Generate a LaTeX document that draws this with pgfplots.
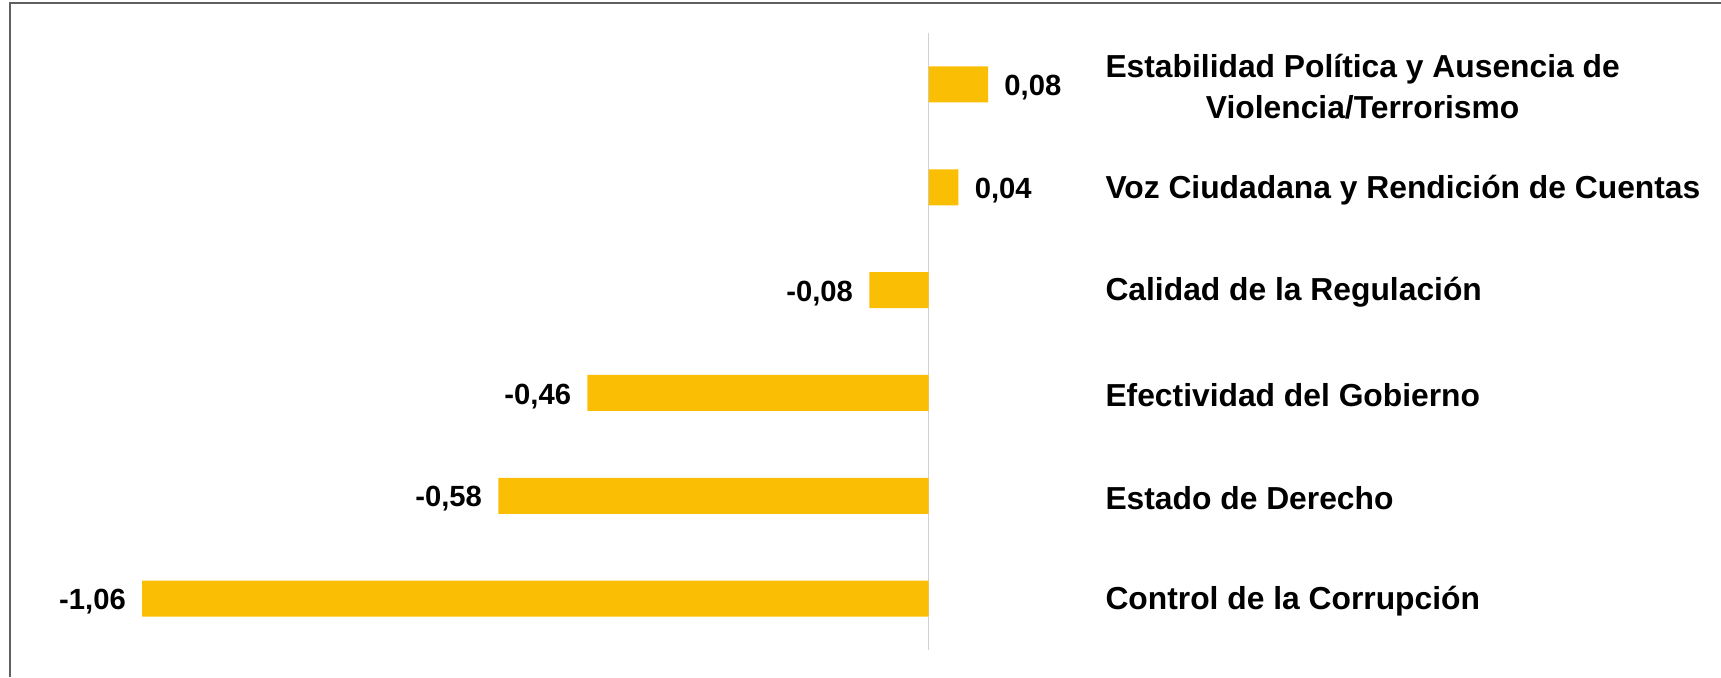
\documentclass[border=0pt]{standalone}
\usepackage{fontspec}
\setmainfont{Liberation Sans}
\usepackage{pgfplots}
\pgfplotsset{compat=1.18}

\definecolor{barclr}{RGB}{250,190,5}
\definecolor{frameclr}{RGB}{96,96,96}

\begin{document}
\begin{tikzpicture}
\useasboundingbox (0,0) rectangle (860.5pt,338.5pt);
\draw[frameclr,line width=1pt] (5pt,0) -- (5pt,336.85pt) -- (860.5pt,336.85pt);
\begin{axis}[at={(19.15pt,13.5pt)},anchor=south west,
  scale only axis,width=532.4pt,height=308.5pt,
  xbar,bar width=18pt,
  xmin=-1.2,xmax=0.235,ymin=-0.5,ymax=5.5,
  axis line style={draw=none},major tick length=0pt,
  xtick=\empty,
  ytick={0,1,2,3,4,5},
  yticklabel pos=right,
  yticklabels={Control de la Corrupción,Estado de Derecho,Efectividad del Gobierno,
    Calidad de la Regulación,Voz Ciudadana y Rendición de Cuentas,
    {Estabilidad Política y Ausencia de\\Violencia/Terrorismo}},
  yticklabel style={anchor=west,align=center,inner xsep=1pt,yshift=-1.2pt,
    font=\fontsize{15.9}{20.3}\selectfont\bfseries},
  extra x ticks={0},extra x tick labels={},
  extra x tick style={grid=major,major grid style={draw=black!18,line width=0.7pt}},
  /pgf/number format/.cd,use comma,fixed,fixed zerofill,precision=2,assume math mode=true,
  /pgfplots/.cd,
  nodes near coords,
  every node near coord/.append style={inner xsep=8pt,yshift=-1.6pt,
    font=\fontsize{14.6}{17}\selectfont\bfseries,text=black},
]
\addplot[fill=barclr,draw=none] coordinates
  {(-1.06,0) (-0.58,1) (-0.46,2) (-0.08,3) (0.04,4) (0.08,5)};
\end{axis}
\end{tikzpicture}
\end{document}
